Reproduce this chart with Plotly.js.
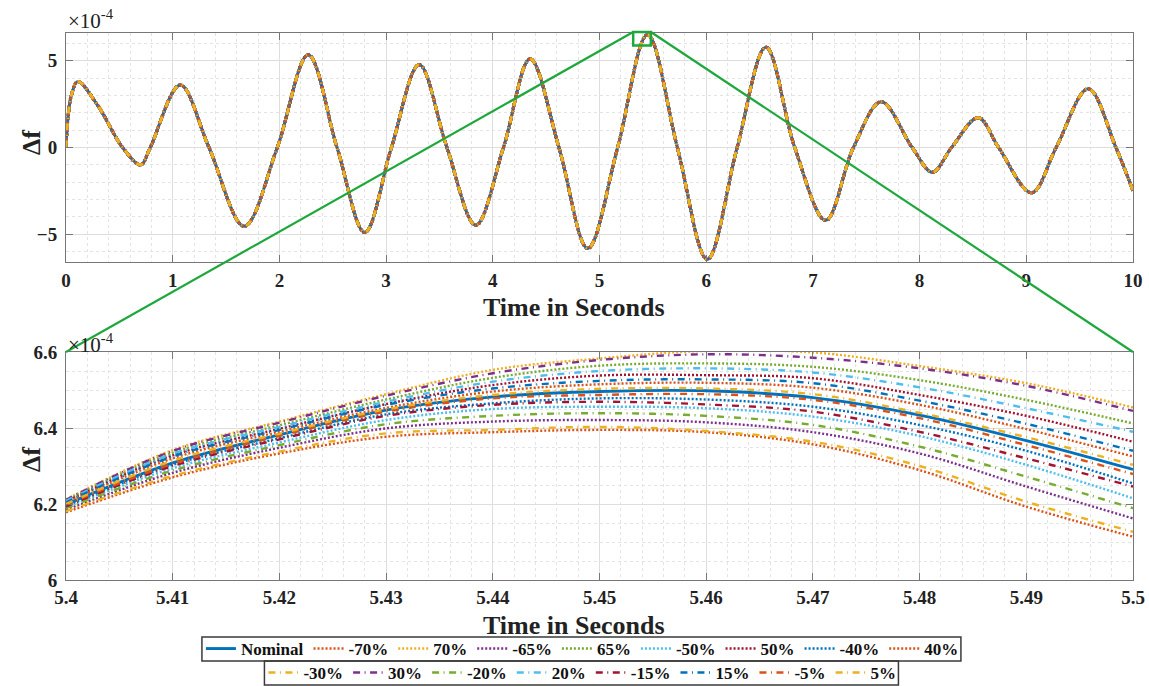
<!DOCTYPE html>
<html><head><meta charset="utf-8">
<script src="https://cdn.plot.ly/plotly-3.0.1.min.js"></script>
<style>html,body{margin:0;padding:0;background:#fff}#chart{width:1149px;height:686px}</style>
</head><body><div id="chart"></div>
<script>
// ---------------- data (Δf in units of 1e-4) ----------------
const seriesNames = ['Nominal','-70%','70%','-65%','65%','-50%','50%','-40%','40%','-30%','30%','-20%','20%','-15%','15%','-5%','5%'];
const seriesColors = ['#0072BD','#D95319','#EDB120','#7E2F8E','#77AC30','#4DBEEE','#A2142F','#0072BD','#D95319',
                      '#EDB120','#7E2F8E','#77AC30','#4DBEEE','#A2142F','#0072BD','#D95319','#EDB120'];
const seriesStyle = ['solid','dot','dot','dot','dot','dot','dot','dot','dot',
                     'dashdot','dashdot','dashdot','dashdot','dashdot','dashdot','dashdot','dashdot'];

// full 0–10 s response (all cases overlap at this scale)
const topTime   = [0, 0.02, 0.05, 0.11, 0.30, 0.53, 0.70, 0.79, 1.07, 1.34, 1.67, 1.98, 2.27, 2.54, 2.80, 3.05, 3.31, 3.57, 3.84, 4.10, 4.35, 4.62, 4.89, 5.17, 5.45, 5.73, 6.01, 6.29, 6.56, 6.83, 7.12, 7.38, 7.64, 7.93, 8.12, 8.30, 8.55, 8.74, 9.05, 9.28, 9.58, 9.84, 10.0];
const topDeltaF = [0, 1.8, 3.0, 3.81, 2.4, 0, -1.0, 0, 3.6, 0, -4.54, 0, 5.34, 0, -4.9, 0, 4.77, 0, -4.48, 0, 5.10, 0, -5.82, 0, 6.50, 0, -6.45, 0, 5.78, 0, -4.2, 0, 2.63, 0, -1.43, 0, 1.72, 0, -2.61, 0, 3.38, 0, -2.5];

// zoomed window 5.40–5.50 s
const zoomTime = [5.40, 5.41, 5.42, 5.43, 5.44, 5.45, 5.46, 5.47, 5.48, 5.49, 5.50];
const zNominal = [6.199, 6.308, 6.382, 6.447, 6.482, 6.496, 6.498, 6.480, 6.434, 6.367, 6.291];
const zM70 = [6.178, 6.270, 6.333, 6.377, 6.389, 6.395, 6.389, 6.357, 6.289, 6.193, 6.114];
const zP70 = [6.212, 6.342, 6.417, 6.489, 6.553, 6.583, 6.603, 6.599, 6.563, 6.518, 6.454];
const zM65 = [6.185, 6.282, 6.348, 6.399, 6.417, 6.421, 6.415, 6.389, 6.333, 6.246, 6.162];
const zP65 = [6.209, 6.335, 6.407, 6.475, 6.532, 6.564, 6.570, 6.561, 6.526, 6.474, 6.412];
const zM50 = [6.191, 6.294, 6.362, 6.421, 6.450, 6.456, 6.452, 6.430, 6.379, 6.303, 6.215];
const zP50 = [6.206, 6.328, 6.398, 6.463, 6.513, 6.538, 6.539, 6.531, 6.487, 6.432, 6.364];
const zM40 = [6.195, 6.303, 6.373, 6.436, 6.465, 6.478, 6.475, 6.456, 6.408, 6.340, 6.254];
const zP40 = [6.203, 6.320, 6.390, 6.453, 6.496, 6.515, 6.519, 6.506, 6.461, 6.397, 6.325];
const zM30 = [6.181, 6.274, 6.338, 6.386, 6.395, 6.403, 6.392, 6.364, 6.300, 6.206, 6.127];
const zP30 = [6.211, 6.340, 6.414, 6.485, 6.544, 6.579, 6.594, 6.585, 6.557, 6.511, 6.445];
const zM20 = [6.189, 6.288, 6.355, 6.410, 6.432, 6.439, 6.432, 6.408, 6.351, 6.272, 6.189];
const zP20 = [6.208, 6.332, 6.403, 6.469, 6.522, 6.550, 6.557, 6.546, 6.507, 6.452, 6.390];
const zM15 = [6.194, 6.300, 6.370, 6.432, 6.461, 6.469, 6.462, 6.443, 6.390, 6.320, 6.246];
const zP15 = [6.204, 6.325, 6.395, 6.461, 6.504, 6.524, 6.528, 6.518, 6.472, 6.411, 6.340];
const zM5  = [6.198, 6.306, 6.379, 6.443, 6.478, 6.487, 6.489, 6.474, 6.426, 6.355, 6.279];
const zP5  = [6.200, 6.314, 6.385, 6.449, 6.487, 6.503, 6.504, 6.489, 6.440, 6.376, 6.303];
const zoomSeries = [zNominal, zM70, zP70, zM65, zP65, zM50, zP50, zM40, zP40, zM30, zP30, zM20, zP20, zM15, zP15, zM5, zP5];

// zoom window drawn on the top plot
const zoomWinX = [5.4, 5.5];
const zoomWinY = [6.0, 6.6];

// ---------------- styling ----------------
const FONT = 'Liberation Serif, Times New Roman, serif';
const dashMap = {solid:'solid', dot:'2px,2px', dashdot:'7px,4.5px,1px,4.5px'};
const topDom = [0.5814, 1], botDom = [0, 0.4168];
const topYR = [-6.6, 6.6], botYR = [6.0, 6.6], topXR = [0, 10], botXR = [5.4, 5.5];
const ML = 66, MT = 33, PW = 1067, PH = 547;
const py2paper = py => (MT + PH - py) / PH;
const px2paper = px => (px - ML) / PW;

const traces = [];
seriesNames.forEach((nm, i) => {
  traces.push({
    x: topTime, y: topDeltaF, xaxis: 'x', yaxis: 'y', type: 'scatter', mode: 'lines',
    line: {color: seriesColors[i], width: 3, dash: dashMap[seriesStyle[i]], shape: 'spline', smoothing: 1.0},
    showlegend: false, hoverinfo: 'skip', name: nm
  });
});
seriesNames.forEach((nm, i) => {
  traces.push({
    x: zoomTime, y: zoomSeries[i], xaxis: 'x2', yaxis: 'y2', type: 'scatter', mode: 'lines',
    line: {color: seriesColors[i], width: i === 0 ? 2.9 : 2.4, dash: dashMap[seriesStyle[i]], shape: 'spline', smoothing: 1.0},
    name: nm, legend: i < 9 ? 'legend' : 'legend2'
  });
});

const tickFont = {family: FONT, size: 19, color: '#222', weight: 'bold'};
const titleFont = {family: FONT, size: 26, color: '#222', weight: 'bold'};
function axisBase(extra) {
  return Object.assign({
    showline: true, linecolor: '#777', linewidth: 1, mirror: 'ticks',
    ticks: 'inside', ticklen: 7, tickcolor: '#777', tickwidth: 1,
    showgrid: true, gridcolor: '#dedede', gridwidth: 1, zeroline: false,
    tickfont: tickFont, automargin: false, ticklabelstandoff: 4
  }, extra);
}

// paper coords of the zoom window on the top axes
const px2x = 1 / PW, px2y = 1 / PH;
const pX = t => (t - topXR[0]) / (topXR[1] - topXR[0]);
const pY = v => topDom[0] + (v - topYR[0]) / (topYR[1] - topYR[0]) * (topDom[1] - topDom[0]);
const rx0 = pX(zoomWinX[0]) - 9 * px2x, rx1 = pX(zoomWinX[1]) - 2 * px2x;
const ry0 = pY(zoomWinY[0]) - 2 * px2y, ry1 = pY(zoomWinY[1]) + 1 * px2y;
const green = '#1EA83C';

const legendFont = {family: FONT, size: 17, color: '#111', weight: 'bold'};
const legCommon = {orientation: 'h', x: 0.484, xanchor: 'center', yanchor: 'top',
    borderwidth: 0, bgcolor: 'rgba(0,0,0,0)', font: legendFont, traceorder: 'normal', itemwidth: 30};

const xTitleText = 'Time in Seconds', yTitleText = 'Δf';
const layout = {
  width: 1149, height: 686,
  margin: {l: ML, r: 1149 - ML - PW, t: MT, b: 686 - MT - PH, autoexpand: false},
  paper_bgcolor: '#fff', plot_bgcolor: '#fff',
  font: {family: FONT, color: '#222'},
  xaxis: axisBase({domain: [0, 1], range: topXR, anchor: 'y', dtick: 1, tick0: 0, ticklabelstandoff: 1,
    minor: {dtick: 0.2, showgrid: true, gridcolor: '#e4e4e4', griddash: 'dot', ticklen: 0}}),
  yaxis: axisBase({domain: topDom, range: topYR, anchor: 'x', dtick: 5, tick0: 0,
    minor: {dtick: 1, showgrid: true, gridcolor: '#e4e4e4', griddash: 'dot', ticklen: 0}}),
  xaxis2: axisBase({domain: [0, 1], range: botXR, anchor: 'y2', dtick: 0.01, tick0: 5.4, ticklabelstandoff: 0,
    minor: {dtick: 0.002, showgrid: true, gridcolor: '#e4e4e4', griddash: 'dot', ticklen: 0}}),
  yaxis2: axisBase({domain: botDom, range: botYR, anchor: 'x2', dtick: 0.2, tick0: 6,
    minor: {dtick: 0.05, showgrid: true, gridcolor: '#e4e4e4', griddash: 'dot', ticklen: 0}}),
  legend: Object.assign({y: py2paper(631)}, legCommon),
  legend2: Object.assign({y: py2paper(655)}, legCommon),
  annotations: [
    // axis titles
    {xref: 'paper', yref: 'paper', x: px2paper(574), y: py2paper(307), xanchor: 'center', yanchor: 'middle', showarrow: false,
     text: xTitleText, font: titleFont},
    {xref: 'paper', yref: 'paper', x: px2paper(574), y: py2paper(625), xanchor: 'center', yanchor: 'middle', showarrow: false,
     text: xTitleText, font: titleFont},
    {xref: 'paper', yref: 'paper', x: px2paper(31), y: py2paper(143), xanchor: 'center', yanchor: 'middle', showarrow: false,
     textangle: -90, text: yTitleText, font: titleFont},
    {xref: 'paper', yref: 'paper', x: px2paper(31), y: py2paper(460), xanchor: 'center', yanchor: 'middle', showarrow: false,
     textangle: -90, text: yTitleText, font: titleFont},
    // exponent labels
    {xref: 'paper', yref: 'paper', x: 0, y: 1, xanchor: 'left', yanchor: 'bottom', showarrow: false, yshift: -2,
     text: '×10<sup>-4</sup>', font: {family: FONT, size: 21, color: '#222'}},
    {xref: 'paper', yref: 'paper', x: 0, y: botDom[1], xanchor: 'left', yanchor: 'bottom', showarrow: false, yshift: -7,
     text: '×10<sup>-4</sup>', font: {family: FONT, size: 21, color: '#222'}}
  ],
  shapes: [
    {type: 'rect', xref: 'paper', yref: 'paper', x0: rx0, x1: rx1, y0: ry0, y1: ry1, line: {color: green, width: 2.5}},
    {type: 'line', xref: 'paper', yref: 'paper', x0: rx0, y0: ry1, x1: 0, y1: botDom[1], line: {color: green, width: 2.2}},
    {type: 'line', xref: 'paper', yref: 'paper', x0: rx1, y0: ry1, x1: 1, y1: botDom[1], line: {color: green, width: 2.2}}
  ]
};

Plotly.newPlot('chart', traces, layout, {staticPlot: true, displayModeBar: false}).then(gd => {
  // draw the two boxed legend frames around the measured legend rows
  const root = gd.getBoundingClientRect();
  const extra = [];
  ['legend', 'legend2'].forEach(id => {
    const g = gd.querySelector('g.' + id);
    if (!g) return;
    const bg = g.querySelector('rect.bg') || g;
    const b = bg.getBoundingClientRect();
    const left = b.left - root.left + 1, right = b.right - root.left - 3;
    const cy = b.top - root.top + b.height / 2;
    extra.push({type: 'rect', xref: 'paper', yref: 'paper', layer: 'above',
      x0: px2paper(left), x1: px2paper(right),
      y0: py2paper(cy + 12), y1: py2paper(cy - 12),
      line: {color: '#3a3a3a', width: 1.5}});
  });
  return Plotly.relayout(gd, {shapes: layout.shapes.concat(extra)});
});
</script></body></html>
